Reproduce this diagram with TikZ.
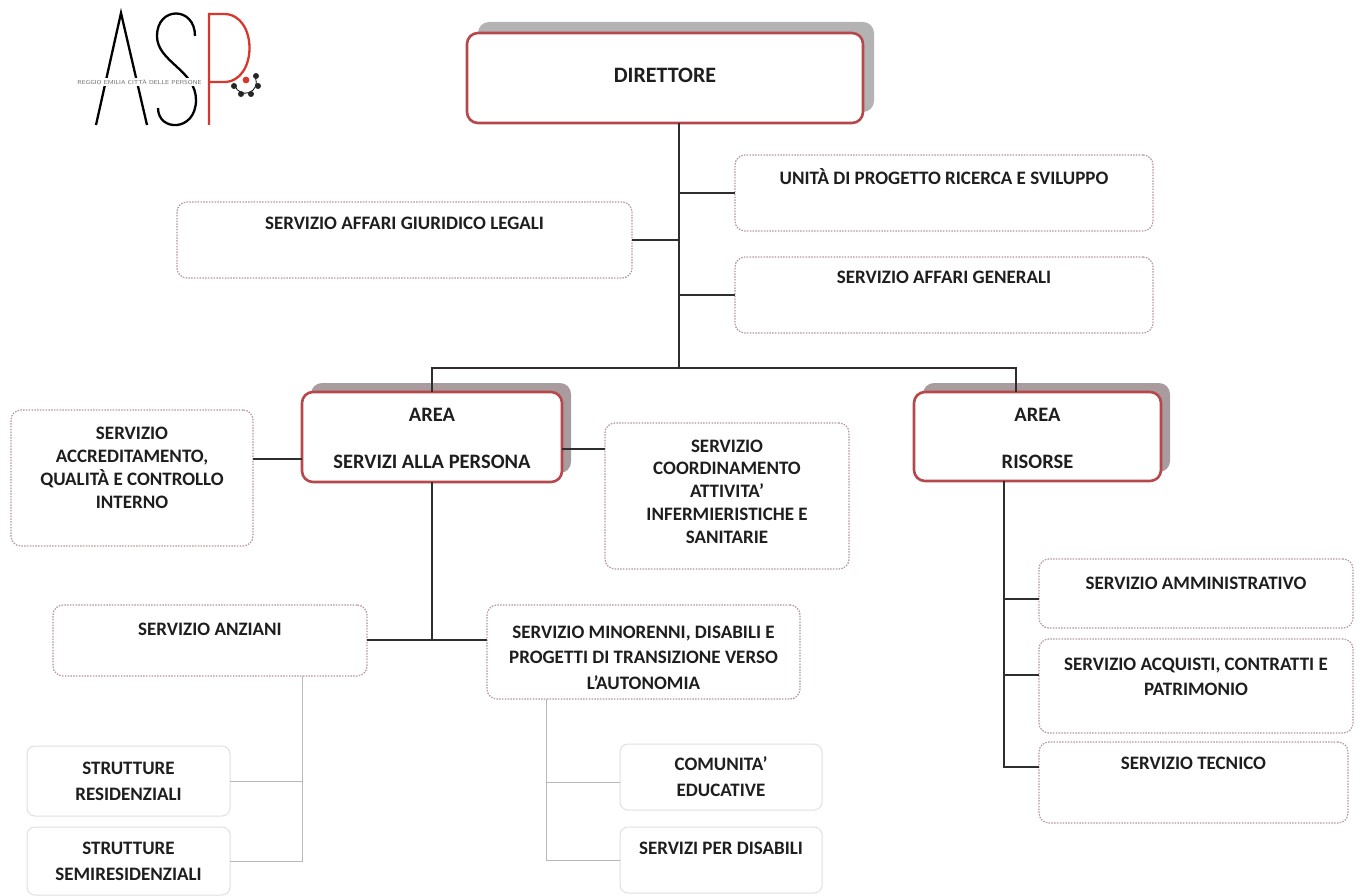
\documentclass[tikz,border=0pt]{standalone}
\usepackage{fontspec}
\usepackage{graphicx}
\setmainfont{Carlito}
\usetikzlibrary{shadows}
\definecolor{redb}{HTML}{B8474B}
\definecolor{dotb}{HTML}{B8959A}
\definecolor{lightb}{HTML}{E0E0E0}
\definecolor{txtc}{HTML}{1E1E1E}
\definecolor{lineg}{HTML}{2E2E2E}
\definecolor{thing}{HTML}{B8B8B8}
\definecolor{shad}{HTML}{B3B3B3}
\definecolor{shadb}{HTML}{A89C9E}
\definecolor{logored}{HTML}{D4382E}
\newcommand\orgbox[6]{\node[#1, minimum width=#4pt-#2pt, minimum height=#5pt-#3pt] (#6) at ({(#2+#4)/2},{(#3+#5)/2}) {};}
\begin{document}
\begin{tikzpicture}[x=1pt,y=-1pt,
  every node/.style={inner sep=0pt, outer sep=0pt},
  redbox/.style={rectangle, draw=redb, line width=2.6pt, rounded corners=11pt, fill=white},
  dirshadow/.style={drop shadow={shadow xshift=11pt, shadow yshift=11pt, opacity=1, fill=shad}},
  areashadow/.style={drop shadow={shadow xshift=9pt, shadow yshift=9pt, opacity=1, fill=shadb}},
  dotbox/.style={rectangle, draw=dotb, line width=1.2pt, dash pattern=on 1.5pt off 1.3pt, rounded corners=10pt},
  lightbox/.style={rectangle, draw=lightb, line width=1pt, rounded corners=8pt},
  tx/.style={font=\fontsize{19}{23}\selectfont\bfseries, align=center, text=txtc},
  conn/.style={draw=lineg, line width=1.5pt},
  thinc/.style={draw=thing, line width=1pt},
  logoline/.style={line width=2.3pt, draw=black, line cap=butt}
]
\useasboundingbox (0,0) rectangle (1362,896);
\fill[white] (0,0) rectangle (1362,896);

% ---------- logo ----------
\draw[logoline] (96,125) -- (121,13) -- (147,125);
\draw[logoline] (195,36) .. controls (195,6) and (157,6) .. (157,36)
   .. controls (157,62) and (196,70) .. (196,100)
   .. controls (196,132) and (158,132) .. (158,108);
\draw[logoline, draw=logored] (209,125) -- (209,14) -- (224,14)
   .. controls (258,14) and (258,82) .. (224,82) -- (209,82);
\node[fill=white, minimum width=128pt, minimum height=8pt, text=black!60] (logotext) at (139.5,82)
   {\resizebox{124pt}{5pt}{\sffamily REGGIO EMILIA CITT\`A DELLE PERSONE}};
\draw[black, line width=0.8pt] (235,86) arc[start angle=200, end angle=380, radius=11pt];
\fill[logored] (246,80) circle[radius=3.4pt];
\foreach \p/\q in {256/76, 258/86, 251/94, 241/94, 234/86}
  \fill[black!85] (\p,\q) circle[radius=3pt];

% ---------- boxes ----------
\orgbox{redbox, dirshadow}{467}{33}{863}{123}{dir}
\orgbox{dotbox}{735}{155}{1153}{231}{uni}
\orgbox{dotbox}{177}{202}{632}{278}{giu}
\orgbox{dotbox}{735}{257}{1153}{333}{gen}
\orgbox{redbox, areashadow}{302}{392}{562}{482}{area1}
\orgbox{redbox, areashadow}{914}{392}{1161}{481}{area2}
\orgbox{dotbox}{11}{410}{253}{546}{acc}
\orgbox{dotbox}{605}{423}{849}{569}{coo}
\orgbox{dotbox}{53}{605}{367}{676}{anz}
\orgbox{dotbox}{487}{605}{800}{699}{min}
\orgbox{lightbox}{27}{746}{230}{816}{str1}
\orgbox{lightbox}{27}{827}{230}{895}{str2}
\orgbox{lightbox}{620}{744}{822}{810}{com}
\orgbox{lightbox}{620}{827}{822}{893}{dis}
\orgbox{dotbox}{1039}{559}{1353}{628}{amm}
\orgbox{dotbox}{1039}{639}{1353}{733}{acq}
\orgbox{dotbox}{1039}{742}{1348}{823}{tec}

% ---------- texts ----------
\node[tx, font=\fontsize{22}{26}\selectfont\bfseries] (tdir) at (665,75) {DIRETTORE};
\node[tx] (tuni) at (944,177) {UNIT\`A DI PROGETTO RICERCA E SVILUPPO};
\node[tx] (tgiu) at (404.5,223) {SERVIZIO AFFARI GIURIDICO LEGALI};
\node[tx] (tgen) at (944,277) {SERVIZIO AFFARI GENERALI};
\node[tx, font=\fontsize{20.5}{24}\selectfont\bfseries] (tarea1) at (432,438.5) {AREA\\[23pt]SERVIZI ALLA PERSONA};
\node[tx, font=\fontsize{20.5}{24}\selectfont\bfseries] (tarea2) at (1037.5,438.5) {AREA\\[23pt]RISORSE};
\node[tx, font=\fontsize{19}{23}\selectfont\bfseries] (tacc) at (132,467.5) {SERVIZIO\\ACCREDITAMENTO,\\QUALIT\`A E CONTROLLO\\INTERNO};
\node[tx, font=\fontsize{19}{22.75}\selectfont\bfseries] (tcoo) at (727,491.5) {SERVIZIO\\COORDINAMENTO\\ATTIVITA’\\INFERMIERISTICHE E\\SANITARIE};
\node[tx] (tanz) at (210,629) {SERVIZIO ANZIANI};
\node[tx, font=\fontsize{19}{25.5}\selectfont\bfseries] (tmin) at (643.5,657.5) {SERVIZIO MINORENNI, DISABILI E\\PROGETTI DI TRANSIZIONE VERSO\\L’AUTONOMIA};
\node[tx, font=\fontsize{19}{26}\selectfont\bfseries] (tstr1) at (128.5,781) {STRUTTURE\\RESIDENZIALI};
\node[tx, font=\fontsize{19}{26}\selectfont\bfseries] (tstr2) at (128.5,861.5) {STRUTTURE\\SEMIRESIDENZIALI};
\node[tx, font=\fontsize{19}{26}\selectfont\bfseries] (tcom) at (721,776.5) {COMUNITA’\\EDUCATIVE};
\node[tx] (tdis) at (721,848) {SERVIZI PER DISABILI};
\node[tx] (tamm) at (1196,583) {SERVIZIO AMMINISTRATIVO};
\node[tx, font=\fontsize{19}{25}\selectfont\bfseries] (tacq) at (1196,676.5) {SERVIZIO ACQUISTI, CONTRATTI E\\PATRIMONIO};
\node[tx] (ttec) at (1193.5,763) {SERVIZIO TECNICO};

% ---------- connectors ----------
\coordinate (trunk) at (679,368);
\coordinate (barR) at (1016,368);
\draw[conn] (dir.south -| trunk) -- (trunk);
\draw[conn] (uni.west -| trunk) -- (uni.west);
\draw[conn] (giu.east) -- (giu.east -| trunk);
\draw[conn] (gen.west -| trunk) -- (gen.west);
\draw[conn] (area1.north) -- (area1.north |- trunk) -- (barR) -- (barR |- area2.north);
\coordinate (j1) at (0,459);
\draw[conn] (area1.west |- j1) -- (acc.east |- j1);
\coordinate (j2) at (0,449);
\draw[conn] (area1.east |- j2) -- (coo.west |- j2);
\coordinate (hub) at (0,640);
\draw[conn] (area1.south) -- (area1.south |- hub);
\draw[conn] (anz.east |- hub) -- (min.west |- hub);
\coordinate (av) at (302,0);
\draw[thinc] (anz.south -| av) -- (av |- str2.east) -- (str2.east);
\draw[thinc] (str1.east) -- (str1.east -| av);
\coordinate (mv) at (546,0);
\coordinate (mc) at (0,782);
\draw[thinc] (min.south -| mv) -- (mv |- dis.west) -- (dis.west);
\draw[thinc] (mv |- mc) -- (com.west |- mc);
\coordinate (rv) at (1004,0);
\coordinate (r1) at (0,599);
\coordinate (r2) at (0,675);
\coordinate (r3) at (0,767);
\draw[conn] (area2.south -| rv) -- (rv |- r3) -- (tec.west |- r3);
\draw[conn] (rv |- r1) -- (amm.west |- r1);
\draw[conn] (rv |- r2) -- (acq.west |- r2);
\end{tikzpicture}
\end{document}
